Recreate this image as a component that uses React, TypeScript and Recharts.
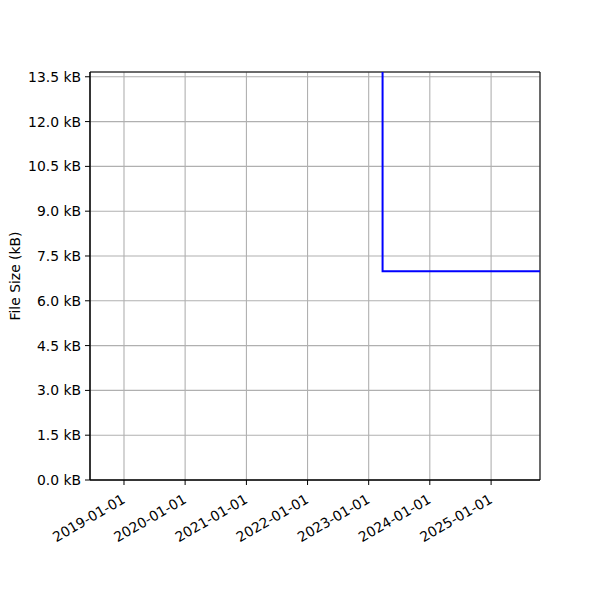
import { LineChart, Line, XAxis, YAxis, CartesianGrid, ReferenceArea } from 'recharts';

// file size history (kB), step change in early 2023
const dates = ['2023-03-25', '2023-03-25', '2025-10-20'];
const sizesKB = [20, 6.99, 6.99];

const xTickDates = ['2019-01-01', '2020-01-01', '2021-01-01', '2022-01-01', '2023-01-01', '2024-01-01', '2025-01-01'];
const yTicks = [0, 1.5, 3, 4.5, 6, 7.5, 9, 10.5, 12, 13.5];

const toMs = (d: string) => Date.parse(d + 'T00:00:00Z');
const xMin = toMs('2018-06-12');
const xMax = toMs('2025-10-20');
const yMax = 13.66;

const data = dates.map((d, i) => ({ t: toMs(d), size: sizesKB[i] }));
const xTicks = xTickDates.map(toMs);

const FONT = 13.9;

const DateTick = (props: any) => {
  const { x, y, payload } = props;
  const label = new Date(payload.value).toISOString().slice(0, 10);
  return (
    <g transform={`translate(${x - 3},${y + 6})`}>
      <text textAnchor="end" transform="rotate(-30)" dy="0.75em" fontSize={FONT} fill="#000">
        {label}
      </text>
    </g>
  );
};

export default function App() {
  return (
    <div style={{ position: 'absolute', left: 0, top: 0, width: 600, height: 600, background: '#fff', fontFamily: '"DejaVu Sans", sans-serif' }}>
      <LineChart width={600} height={600} data={data} margin={{ top: 72, right: 60, bottom: 60, left: 10 }}>
        <CartesianGrid stroke="#b0b0b0" strokeWidth={1.1} />
        <XAxis
          dataKey="t"
          type="number"
          scale="time"
          domain={[xMin, xMax]}
          ticks={xTicks}
          allowDataOverflow
          height={60}
          tickSize={5}
          tick={<DateTick />}
          axisLine={{ stroke: '#000' }}
          tickLine={{ stroke: '#000' }}
          interval={0}
        />
        <YAxis
          type="number"
          domain={[0, yMax]}
          ticks={yTicks}
          allowDataOverflow
          width={80}
          tickSize={5}
          tickMargin={4}
          interval={0}
          tickFormatter={(v: number) => `${v.toFixed(1)} kB`}
          tick={{ fill: '#000', fontSize: FONT }}
          axisLine={{ stroke: '#000' }}
          tickLine={{ stroke: '#000' }}
          label={{
            content: () => (
              <text x={16} y={276} transform="rotate(-90,16,276)" textAnchor="middle" dominantBaseline="middle" fontSize={FONT} fill="#000">
                File Size (kB)
              </text>
            ),
          }}
        />
        <ReferenceArea x1={xMin} x2={xMax} y1={0} y2={yMax} fill="none" stroke="#000" strokeWidth={1} />
        <Line
          dataKey="size"
          type="linear"
          stroke="#0000ff"
          strokeWidth={2}
          dot={false}
          isAnimationActive={false}
        />
      </LineChart>
    </div>
  );
}
